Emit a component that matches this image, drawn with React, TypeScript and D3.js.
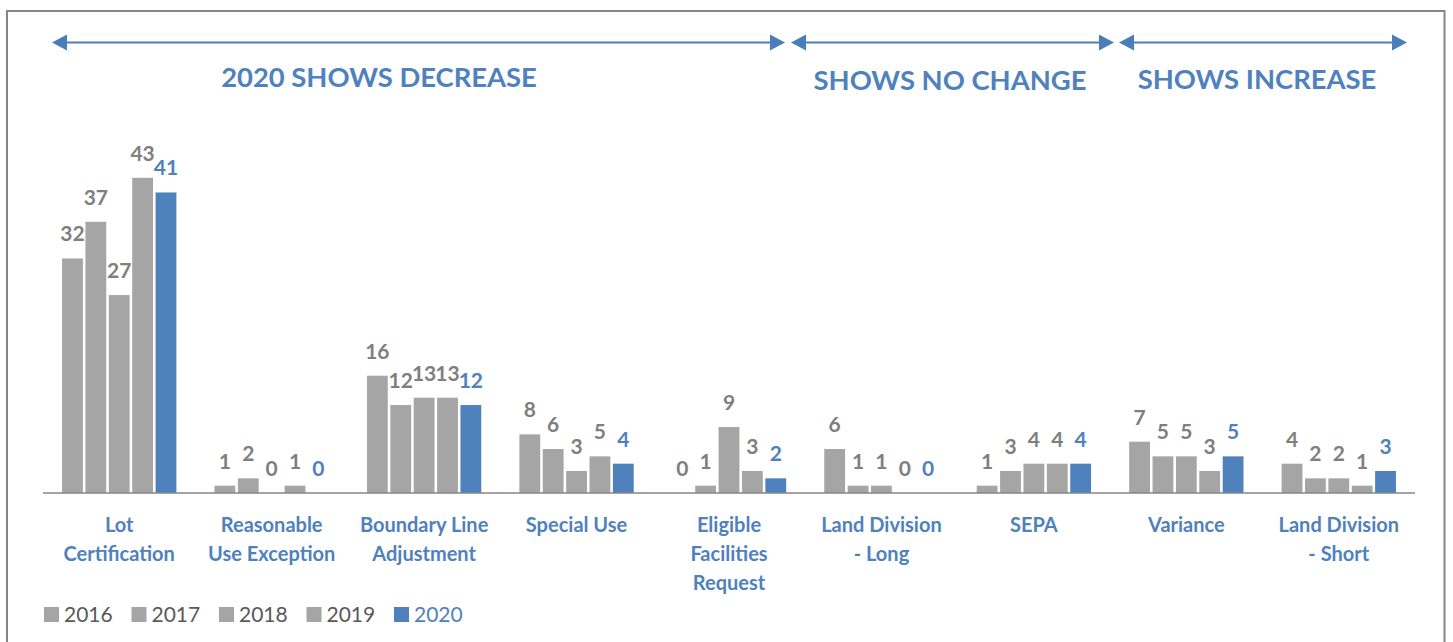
import React from 'react';
import * as d3 from 'd3';

const categories = [
  'Lot Certification',
  'Reasonable Use Exception',
  'Boundary Line Adjustment',
  'Special Use',
  'Eligible Facilities Request',
  'Land Division - Long',
  'SEPA',
  'Variance',
  'Land Division - Short',
];
const categoryLines = [
  ['Lot', 'Certification'],
  ['Reasonable', 'Use Exception'],
  ['Boundary Line', 'Adjustment'],
  ['Special Use'],
  ['Eligible', 'Facilities', 'Request'],
  ['Land Division', '- Long'],
  ['SEPA'],
  ['Variance'],
  ['Land Division', '- Short'],
];
const years = ['2016', '2017', '2018', '2019', '2020'];
const values2016 = [32, 1, 16, 8, 0, 6, 1, 7, 4];
const values2017 = [37, 2, 12, 6, 1, 1, 3, 5, 2];
const values2018 = [27, 0, 13, 3, 9, 1, 4, 5, 2];
const values2019 = [43, 1, 13, 5, 3, 0, 4, 3, 1];
const values2020 = [41, 0, 12, 4, 2, 0, 4, 5, 3];
const seriesValues = [values2016, values2017, values2018, values2019, values2020];

const sectionLabels = ['2020 SHOWS DECREASE', 'SHOWS NO CHANGE', 'SHOWS INCREASE'];

// annotation layout (pixels), not data
const arrows = [
  { x1: 52, x2: 785, tx: 379, ty: 87 },
  { x1: 791, x2: 1114, tx: 950, ty: 90 },
  { x1: 1119, x2: 1407, tx: 1257, ty: 88.5 },
];

const W = 1453;
const H = 642;
const BLUE = '#4f81bd';
const GRAY = '#a5a5a5';
const FONT = 'Lato, "Open Sans", sans-serif';

const App: React.FC = () => {
  const axisY = 493;
  const x0 = d3.scaleBand<string>()
    .domain(categories)
    .range([43, 1415])
    .paddingInner(0.25)
    .paddingOuter(0.125);
  const x1 = d3.scaleBand<string>()
    .domain(years)
    .range([0, x0.bandwidth()])
    .paddingInner(0.11);
  const y = d3.scaleLinear().domain([0, 50]).range([axisY, axisY - 366.5]);

  const arrowY = 42.5;
  const head = (tipX: number, dir: number) =>
    `M${tipX},${arrowY} L${tipX - dir * 15},${arrowY - 8} L${tipX - dir * 15},${arrowY + 8} Z`;

  return (
    <svg width={W} height={H} style={{ position: 'absolute', left: 0, top: 0 }} fontFamily={FONT}>
      <rect x={0} y={0} width={W} height={H} fill="#fff" />
      <rect x={7} y={11} width={1437.5} height={H + 20} fill="none" stroke="#868686" strokeWidth={2} />

      {arrows.map((a, i) => (
        <g key={i}>
          <line x1={a.x1 + 10} x2={a.x2 - 10} y1={arrowY} y2={arrowY} stroke="#4a7ebb" strokeWidth={2} />
          <path d={head(a.x1, -1)} fill="#4a7ebb" />
          <path d={head(a.x2, 1)} fill="#4a7ebb" />
          <text x={a.tx} y={a.ty} textAnchor="middle" fontSize={27.4} fontWeight={700} fill={BLUE}>
            {sectionLabels[i]}
          </text>
        </g>
      ))}

      {categories.map((c, ci) => (
        <g key={c} transform={`translate(${x0(c)},0)`}>
          {years.map((yr, si) => {
            const v = seriesValues[si][ci];
            const bx = x1(yr) as number;
            const is2020 = yr === '2020';
            return (
              <g key={yr}>
                {v > 0 && (
                  <rect x={bx} y={y(v)} width={x1.bandwidth()} height={axisY - y(v)} fill={is2020 ? BLUE : GRAY} />
                )}
                <text
                  x={bx + x1.bandwidth() / 2}
                  y={y(v) - 17}
                  textAnchor="middle"
                  fontSize={21}
                  fontWeight={700}
                  fill={is2020 ? BLUE : '#7f7f7f'}
                >
                  {v}
                </text>
              </g>
            );
          })}
          {categoryLines[ci].map((line, li) => (
            <text
              key={li}
              x={x0.bandwidth() / 2}
              y={532 + li * 29}
              textAnchor="middle"
              fontSize={20}
              fontWeight={700}
              fill={BLUE}
            >
              {line}
            </text>
          ))}
        </g>
      ))}

      <line x1={43} x2={1415} y1={axisY} y2={axisY} stroke="#868686" strokeWidth={1.5} />

      {years.map((yr, i) => (
        <g key={yr} transform={`translate(${44 + i * 87.5},607)`}>
          <rect x={0} y={0} width={15} height={15} fill={yr === '2020' ? BLUE : GRAY} />
          <text x={20} y={15} fontSize={21} fill={yr === '2020' ? BLUE : '#595959'}>
            {yr}
          </text>
        </g>
      ))}
    </svg>
  );
};

export default App;
